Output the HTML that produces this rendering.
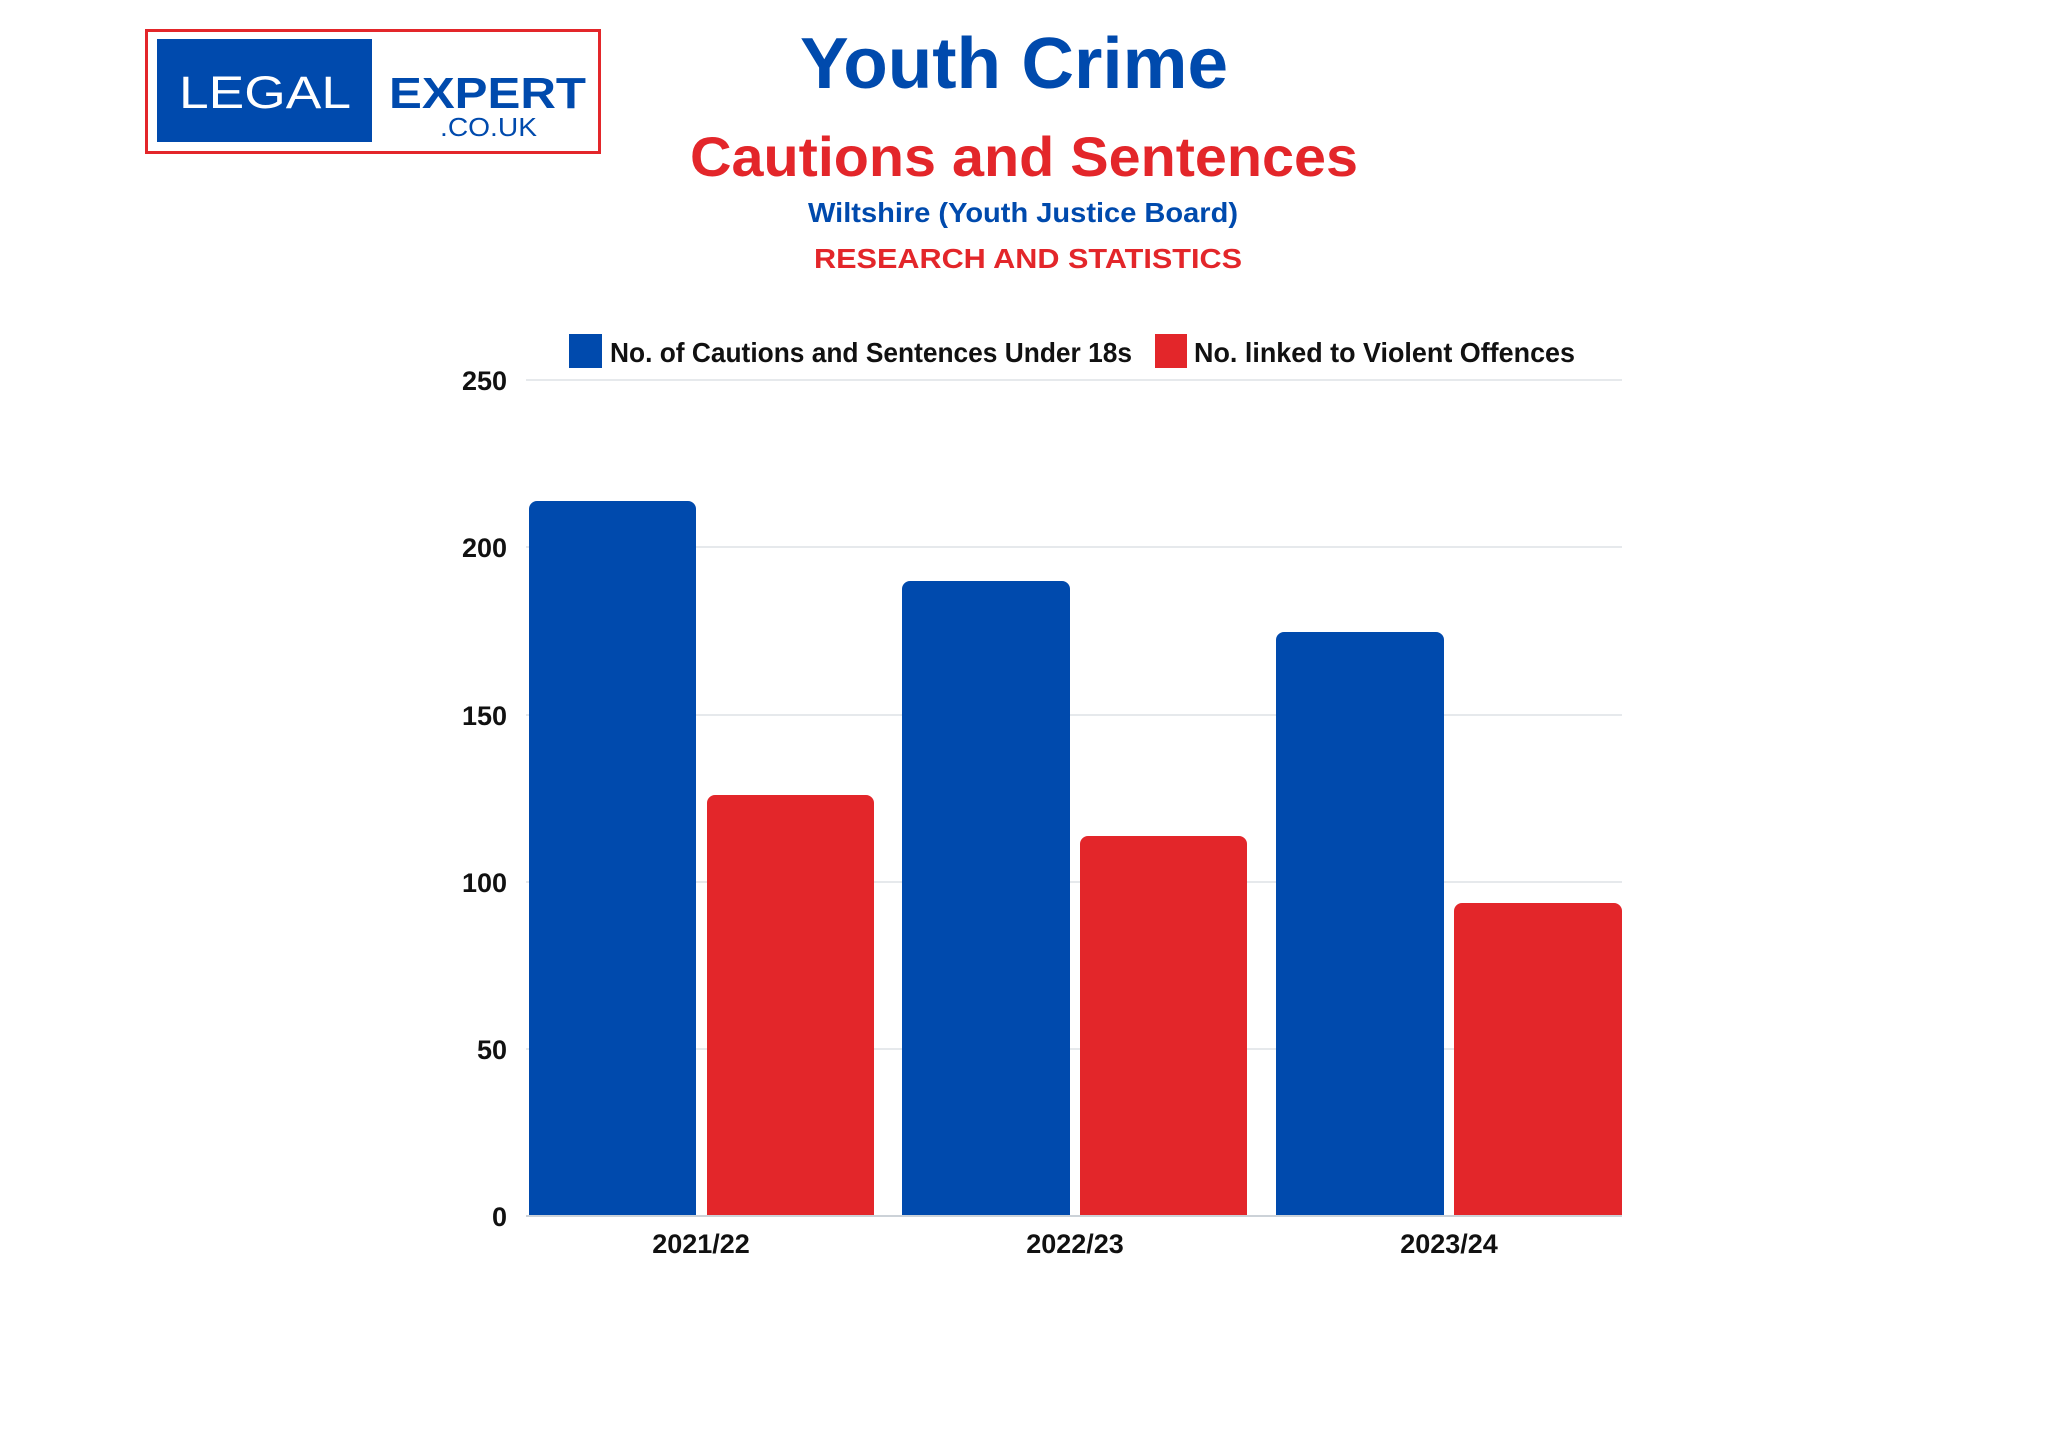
<!DOCTYPE html>
<html><head><meta charset="utf-8"><style>html,body{margin:0;padding:0;background:#fff}svg{display:block}</style></head>
<body>
<svg width="2048" height="1434" viewBox="0 0 2048 1434" xmlns="http://www.w3.org/2000/svg" font-family="Liberation Sans, sans-serif">
<rect width="2048" height="1434" fill="#fff"/>
<!-- logo -->
<rect x="146.5" y="30.5" width="453" height="122" fill="#fff" stroke="#e3262a" stroke-width="3"/>
<rect x="157" y="39" width="215" height="103" fill="#004aad"/>
<text x="179" y="108" font-size="45" fill="#fff" textLength="172" lengthAdjust="spacingAndGlyphs">LEGAL</text>
<text x="389" y="108" font-size="44" font-weight="bold" fill="#004aad" textLength="197" lengthAdjust="spacingAndGlyphs">EXPERT</text>
<text x="440" y="136" font-size="26" fill="#004aad" textLength="97" lengthAdjust="spacingAndGlyphs">.CO.UK</text>
<!-- titles -->
<text x="800" y="88" font-size="72" font-weight="bold" fill="#004aad" textLength="428" lengthAdjust="spacingAndGlyphs">Youth Crime</text>
<text x="690" y="176" font-size="56" font-weight="bold" fill="#e3262a" textLength="668" lengthAdjust="spacingAndGlyphs">Cautions and Sentences</text>
<text x="808" y="222" font-size="28" font-weight="bold" fill="#004aad" textLength="430" lengthAdjust="spacingAndGlyphs">Wiltshire (Youth Justice Board)</text>
<text x="814" y="268" font-size="28" font-weight="bold" fill="#e3262a" textLength="428" lengthAdjust="spacingAndGlyphs">RESEARCH AND STATISTICS</text>
<!-- legend -->
<rect x="569" y="334" width="33" height="34" fill="#004aad"/>
<text x="610" y="362" font-size="28" font-weight="bold" fill="#111" textLength="522" lengthAdjust="spacingAndGlyphs">No. of Cautions and Sentences Under 18s</text>
<rect x="1155" y="334" width="32" height="34" fill="#e3262a"/>
<text x="1194" y="362" font-size="28" font-weight="bold" fill="#111" textLength="381" lengthAdjust="spacingAndGlyphs">No. linked to Violent Offences</text>
<!-- grid -->
<g stroke="#e6e9ec" stroke-width="2">
<line x1="526" x2="1622" y1="380" y2="380"/>
<line x1="526" x2="1622" y1="547" y2="547"/>
<line x1="526" x2="1622" y1="715" y2="715"/>
<line x1="526" x2="1622" y1="882" y2="882"/>
<line x1="526" x2="1622" y1="1049" y2="1049"/>
</g>
<g font-size="27" font-weight="bold" fill="#111" text-anchor="end">
<text x="507" y="390">250</text>
<text x="507" y="557">200</text>
<text x="507" y="725">150</text>
<text x="507" y="892">100</text>
<text x="507" y="1059">50</text>
<text x="507" y="1226">0</text>
</g>
<!-- bars -->
<g>
<path d="M529 1216V509a8 8 0 0 1 8-8H688a8 8 0 0 1 8 8V1216Z" fill="#004aad"/>
<path d="M707 1216V803a8 8 0 0 1 8-8H866a8 8 0 0 1 8 8V1216Z" fill="#e3262a"/>
<path d="M902 1216V589a8 8 0 0 1 8-8H1062a8 8 0 0 1 8 8V1216Z" fill="#004aad"/>
<path d="M1080 1216V844a8 8 0 0 1 8-8H1239a8 8 0 0 1 8 8V1216Z" fill="#e3262a"/>
<path d="M1276 1216V640a8 8 0 0 1 8-8H1436a8 8 0 0 1 8 8V1216Z" fill="#004aad"/>
<path d="M1454 1216V911a8 8 0 0 1 8-8H1614a8 8 0 0 1 8 8V1216Z" fill="#e3262a"/>
</g>
<line x1="526" x2="1622" y1="1216" y2="1216" stroke="#ccd2d8" stroke-width="2"/>
<g font-size="27" font-weight="bold" fill="#111" text-anchor="middle">
<text x="701" y="1253">2021/22</text>
<text x="1075" y="1253">2022/23</text>
<text x="1449" y="1253">2023/24</text>
</g>
</svg>
</body></html>
